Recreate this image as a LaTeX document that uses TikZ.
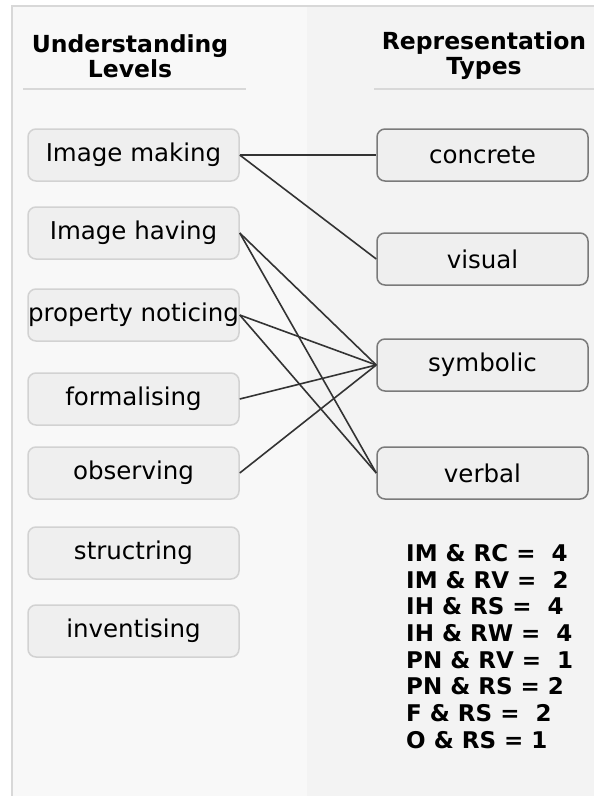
\documentclass[tikz,border=0pt]{standalone}
\usepackage{fontspec}
\setmainfont{DejaVu Sans}
\definecolor{leftbg}{HTML}{F8F8F8}
\definecolor{rightbg}{HTML}{F3F3F3}
\definecolor{framec}{HTML}{D8D8D8}
\definecolor{boxfill}{HTML}{EFEFEF}
\definecolor{lborder}{HTML}{D2D2D2}
\definecolor{rborder}{HTML}{7A7A7A}
\definecolor{linec}{HTML}{333333}
\begin{document}
\begin{tikzpicture}[x=1pt,y=-1pt,
  lbox/.style={rounded corners=8pt, draw=lborder, line width=1.5pt, fill=boxfill,
    minimum width=211pt, minimum height=52pt, inner sep=0pt,
    font=\fontsize{24.5}{28}\selectfont},
  rbox/.style={lbox, draw=rborder},
  head/.style={align=center, font=\bfseries\fontsize{23.5}{25}\selectfont},
  stat/.style={anchor=west, inner sep=0pt, font=\bfseries\fontsize{23}{26}\selectfont},
  conn/.style={draw=linec, line width=1.6pt}]
\path[use as bounding box] (0,0) rectangle (594,796);
\fill[white] (0,0) rectangle (594,796);
\fill[leftbg] (12,6) rectangle (307,796);
\fill[rightbg] (307,6) rectangle (594,796);
\draw[framec, line width=2pt] (12,796) -- (12,6) -- (594,6);

\node[head] (h1) at (130,56) {Understanding\\Levels};
\node[head] (h2) at (484,56) {Representation\\Types};
\draw[framec, line width=1.5pt] (23,89) -- (246,89);
\draw[framec, line width=1.5pt] (374,89) -- (594,89);

\node[lbox] (im) at (133.5,155) {Image making};
\node[lbox] (ih) at (133.5,233) {Image having};
\node[lbox] (pn) at (133.5,315) {property noticing};
\node[lbox] (fo) at (133.5,399) {formalising};
\node[lbox] (ob) at (133.5,473) {observing};
\node[lbox] (st) at (133.5,553) {structring};
\node[lbox] (in) at (133.5,631) {inventising};

\node[rbox] (rc) at (482.5,155) {concrete};
\node[rbox] (rv) at (482.5,259) {visual};
\node[rbox] (rs) at (482.5,365) {symbolic};
\node[rbox] (rw) at (482.5,473) {verbal};

\draw[conn] (im.east) -- (rc.west);
\draw[conn] (im.east) -- (rv.west);
\draw[conn] (ih.east) -- (rs.west);
\draw[conn] (ih.east) -- (rw.west);
\draw[conn] (pn.east) -- (rs.west);
\draw[conn] (pn.east) -- (rw.west);
\draw[conn] (fo.east) -- (rs.west);
\draw[conn] (ob.east) -- (rs.west);

\node[stat] (s1) at (406,553) {IM \& RC =~~4};
\node[stat] (s2) at (406,580) {IM \& RV =~~2};
\node[stat] (s3) at (406,606) {IH \& RS =~~4};
\node[stat] (s4) at (406,633) {IH \& RW =~~4};
\node[stat] (s5) at (406,660) {PN \& RV =~~1};
\node[stat] (s6) at (406,686) {PN \& RS = 2};
\node[stat] (s7) at (406,713) {F \& RS =~~2};
\node[stat] (s8) at (406,740) {O \& RS = 1};
\end{tikzpicture}
\end{document}
